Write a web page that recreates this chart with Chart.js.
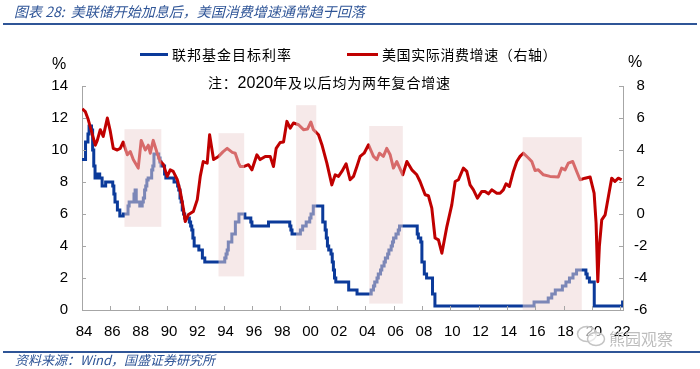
<!DOCTYPE html>
<html>
<head>
<meta charset="utf-8">
<script src="https://cdn.jsdelivr.net/npm/chart.js@4.4.0/dist/chart.umd.min.js"></script>
<style>
  body { margin: 0; background: #fff; }
  #wrap { position: relative; width: 700px; height: 369px; overflow: hidden; font-family: "Noto Sans CJK SC", sans-serif; }
  #wrap canvas { position: absolute; left: 0; top: 0; }
  .txt { position: absolute; white-space: nowrap; line-height: 20px; height: 20px; color: #000; }
  .rule { position: absolute; height: 2px; background: #2F5597; }
  .key { position: absolute; height: 3px; }
  .num { font-family: "Liberation Sans", Arial, sans-serif; }
</style>
</head>
<body>
<div id="wrap">
  <canvas id="chart" width="700" height="369"></canvas>

  <div class="txt" style="left:14px; top:1px; font-size:14px; font-style:italic; color:#2F5597;">图表 28:&nbsp; 美联储开始加息后，美国消费增速通常趋于回落</div>
  <div class="rule" style="left:3px; top:23px; width:694px;"></div>

  <div class="key" style="left:140px; top:53px; width:28px; background:#0B3A9A;"></div>
  <div class="txt" style="left:172px; top:44px; font-size:14px; letter-spacing:1px;">联邦基金目标利率</div>
  <div class="key" style="left:347px; top:53px; width:31px; background:#C00000;"></div>
  <div class="txt" style="left:382px; top:44px; font-size:14px; letter-spacing:0.6px;">美国实际消费增速（右轴）</div>

  <div class="txt" style="left:208px; top:72px; font-size:14px; letter-spacing:0.8px;">注：<span class="num" style="font-size:16px; letter-spacing:0;">2020</span>年及以后均为两年复合增速</div>

  <div class="txt num" style="left:52px; top:54px; font-size:16px;">%</div>
  <div class="txt num" style="left:628px; top:52px; font-size:16px;">%</div>

  <div class="rule" style="left:3px; top:351px; width:697px;"></div>
  <div class="txt" style="left:15px; top:350px; font-size:13px; font-style:italic; color:#2F5597;">资料来源：Wind，国盛证券研究所</div>

  <svg style="position:absolute; left:576px; top:325px;" width="32" height="24">
    <ellipse cx="11" cy="9" rx="9.5" ry="7.5" fill="rgba(255,255,255,0.6)" stroke="#C4C4C4" stroke-width="1.5"/>
    <ellipse cx="20" cy="14" rx="8.5" ry="6.5" fill="rgba(255,255,255,0.6)" stroke="#C4C4C4" stroke-width="1.5"/>
  </svg>
  <div class="txt" style="left:609px; top:328px; font-size:16px; color:#BDBDBD;">熊园观察</div>
</div>

<script>
// Fed funds target rate, step changes (year, %)
const fedYears = [
  1984.00, 1984.25, 1984.42, 1984.50, 1984.67, 1984.75, 1984.83, 1984.92,
  1985.08, 1985.25, 1985.42, 1985.67, 1986.17, 1986.25, 1986.33, 1986.50, 1986.67, 1986.92,
  1987.25, 1987.33, 1987.67, 1987.75, 1987.83,
  1988.08, 1988.25, 1988.33, 1988.42, 1988.50, 1988.58, 1988.67, 1988.92,
  1989.00, 1989.08, 1989.42, 1989.50, 1989.58, 1989.83, 1989.92,
  1990.50, 1990.75, 1990.83, 1990.92,
  1991.00, 1991.08, 1991.17, 1991.25, 1991.58, 1991.67, 1991.75, 1991.83, 1991.92,
  1992.25, 1992.50, 1992.67,
  1994.08, 1994.17, 1994.25, 1994.33, 1994.58, 1994.83,
  1995.08, 1995.50, 1995.92, 1996.00, 1997.17,
  1998.67, 1998.75, 1998.83, 1999.42, 1999.58, 1999.83,
  2000.08, 2000.17, 2000.33,
  2001.00, 2001.17, 2001.25, 2001.33, 2001.42, 2001.58, 2001.67, 2001.75, 2001.83, 2001.92,
  2002.83, 2003.42,
  2004.42, 2004.58, 2004.67, 2004.83, 2004.92,
  2005.08, 2005.17, 2005.33, 2005.42, 2005.58, 2005.67, 2005.83, 2005.92,
  2006.00, 2006.17, 2006.33, 2006.42,
  2007.67, 2007.75, 2007.92,
  2008.00, 2008.17, 2008.33, 2008.75, 2008.92,
  2015.92, 2016.92, 2017.17, 2017.42, 2017.92,
  2018.17, 2018.42, 2018.67, 2018.92,
  2019.58, 2019.67, 2019.83,
  2020.17, 2022.17, 2022.20
];
const fedRates = [
  9.4, 10.5, 11.0, 11.5, 11.25, 10.0, 9.0, 8.25,
  8.5, 8.25, 7.75, 8.0, 7.75, 7.25, 6.75, 6.25, 5.875, 6.0,
  6.5, 6.75, 7.25, 7.5, 6.75,
  6.5, 6.75, 7.0, 7.5, 7.75, 8.125, 8.25, 8.75,
  9.0, 9.75, 9.5, 9.25, 9.0, 8.5, 8.25,
  8.0, 7.75, 7.5, 7.0,
  6.75, 6.25, 6.0, 5.75, 5.5, 5.25, 5.0, 4.5, 4.0,
  3.75, 3.25, 3.0,
  3.25, 3.5, 3.75, 4.25, 4.75, 5.5,
  6.0, 5.75, 5.5, 5.25, 5.5,
  5.25, 5.0, 4.75, 5.0, 5.25, 5.5,
  5.75, 6.0, 6.5,
  5.5, 5.0, 4.5, 4.0, 3.75, 3.5, 3.0, 2.5, 2.0, 1.75,
  1.25, 1.0,
  1.25, 1.5, 1.75, 2.0, 2.25,
  2.5, 2.75, 3.0, 3.25, 3.5, 3.75, 4.0, 4.25,
  4.5, 4.75, 5.0, 5.25,
  4.75, 4.5, 4.25,
  3.0, 2.25, 2.0, 1.0, 0.25,
  0.5, 0.75, 1.0, 1.25, 1.5,
  1.75, 2.0, 2.25, 2.5,
  2.25, 2.0, 1.75,
  0.25, 0.5, 0.5
];

// US real consumption growth, % y/y (right axis)
const pceYears = [
  1984.02, 1984.23, 1984.44, 1984.94, 1985.08, 1985.29, 1985.50, 1985.79, 1986.00, 1986.21,
  1986.49, 1986.70, 1986.91, 1987.20, 1987.41, 1987.62, 1987.97, 1988.18, 1988.47, 1988.68,
  1988.82, 1989.03, 1989.31, 1989.52, 1989.74, 1990.02, 1990.23, 1990.44, 1990.73, 1990.94,
  1991.15, 1991.29, 1991.50, 1991.86, 1992.14, 1992.35, 1992.56, 1992.84, 1993.01, 1993.29,
  1993.64, 1993.97, 1994.25, 1994.61, 1994.82, 1995.05, 1995.17, 1995.45, 1995.76, 1996.00,
  1996.35, 1996.58, 1996.94, 1997.29, 1997.52, 1997.71, 1997.99, 1998.23, 1998.47, 1998.70,
  1998.93, 1999.29, 1999.64, 1999.92, 2000.16, 2000.34, 2000.70, 2000.94, 2001.29, 2001.64,
  2001.88, 2002.11, 2002.35, 2002.65, 2002.93, 2003.17, 2003.41, 2003.64, 2003.92, 2004.23,
  2004.58, 2004.82, 2005.00, 2005.28, 2005.52, 2005.76, 2005.99, 2006.23, 2006.65, 2006.94,
  2007.29, 2007.64, 2007.87, 2008.23, 2008.46, 2008.70, 2008.93, 2009.17, 2009.41, 2009.76,
  2010.11, 2010.35, 2010.58, 2010.93, 2011.17, 2011.40, 2011.64, 2011.92, 2012.23, 2012.46,
  2012.70, 2012.93, 2013.29, 2013.52, 2013.75, 2013.94, 2014.18, 2014.46, 2014.70, 2014.93,
  2015.16, 2015.52, 2015.76, 2015.99, 2016.22, 2016.58, 2017.05, 2017.63, 2017.87, 2018.11,
  2018.34, 2018.65, 2018.93, 2019.17, 2019.52, 2019.88, 2020.16, 2020.30, 2020.42, 2020.53,
  2020.70, 2020.94, 2021.17, 2021.40, 2021.63, 2021.87, 2022.10
];
const pceGrowth = [
  6.58, 6.4, 5.9, 4.3, 4.6, 5.27, 4.85, 6.0, 5.16, 4.1,
  4.0, 4.1, 4.5, 3.7, 3.9, 3.4, 2.87, 4.6, 4.0, 4.3,
  3.8, 4.6, 3.8, 3.3, 3.1, 2.35, 2.76, 2.66, 2.14, 1.4,
  0.37, -0.47, -0.05, 0.15, 0.9, 2.35, 3.28, 3.18, 4.95, 3.4,
  3.6, 3.9, 4.1, 3.85, 3.8, 3.2, 2.97, 2.97, 3.08, 2.76,
  3.7, 3.4, 3.6, 3.6, 2.97, 4.1, 4.47, 4.5, 5.79, 5.37,
  5.69, 5.58, 5.27, 5.31, 5.75, 5.27, 4.95, 4.33, 3.18, 1.82,
  2.45, 2.35, 2.66, 3.14, 2.14, 2.35, 2.97, 3.6, 3.8, 4.33,
  3.6, 3.4, 3.8, 3.6, 4.1, 3.7, 2.87, 3.28, 2.45, 3.28,
  2.76, 2.45, 2.03, 1.2, 1.14, 0.37, -1.5, -1.62, -2.45, -0.8,
  0.57, 2.03, 2.14, 2.87, 2.66, 1.82, 1.51, 0.99, 1.41, 1.41,
  1.26, 1.51, 1.3, 1.3, 1.51, 1.89, 1.72, 2.66, 3.28, 3.6,
  3.8, 3.5, 3.28, 2.72, 2.76, 2.45, 2.35, 2.31, 2.87, 2.76,
  3.18, 3.28, 2.66, 2.14, 2.24, 2.31, 1.3, -0.57, -4.23, -2.04,
  -0.37, -0.05, 1.09, 2.24, 2.03, 2.24, 2.14
];

// hiking periods (shaded), in years and left-axis %
const shadeFrom = [1987.0, 1993.64, 1999.12, 2004.28, 2015.12];
const shadeTo   = [1989.6, 1995.45, 2000.54, 2006.65, 2019.29];
const shadeHigh = [11.3, 11.05, 12.8, 11.5, 10.8];
const shadeLow  = [5.2, 2.1, 3.75, 0.4, 0];

const axisGrey = "#A6A6A6";
const tickFont = { family: '"Liberation Sans", Arial, sans-serif', size: 15 };

const shadePlugin = {
  id: "shade",
  afterDatasetsDraw(chart) {
    const { ctx, scales: { x, y, y1 } } = chart;
    ctx.save();
    ctx.fillStyle = "rgba(238, 212, 212, 0.5)";
    shadeFrom.forEach((from, i) => {
      const x0 = x.getPixelForValue(from);
      const x1 = x.getPixelForValue(shadeTo[i]);
      const top = y.getPixelForValue(shadeHigh[i]);
      const bottom = y.getPixelForValue(shadeLow[i]);
      ctx.fillRect(x0, top, x1 - x0, bottom - top);
    });
    // inward tick marks
    ctx.strokeStyle = axisGrey;
    ctx.lineWidth = 1;
    ctx.beginPath();
    x.ticks.forEach(t => {
      const px = Math.round(x.getPixelForValue(t.value)) + 0.5;
      ctx.moveTo(px, x.top);
      ctx.lineTo(px, x.top - 4);
    });
    y.ticks.forEach(t => {
      const py = Math.round(y.getPixelForValue(t.value)) + 0.5;
      ctx.moveTo(y.right, py);
      ctx.lineTo(y.right + 4, py);
    });
    y1.ticks.forEach(t => {
      const py = Math.round(y1.getPixelForValue(t.value)) + 0.5;
      ctx.moveTo(y1.left, py);
      ctx.lineTo(y1.left - 4, py);
    });
    ctx.stroke();
    ctx.restore();
  }
};

document.addEventListener("DOMContentLoaded", () => {
  const ctx = document.getElementById("chart").getContext("2d");

  new Chart(ctx, {
    type: "line",
    data: {
      datasets: [
        {
          label: "美国实际消费增速（右轴）",
          data: pceYears.map((yr, i) => ({ x: yr, y: pceGrowth[i] })),
          yAxisID: "y1",
          borderColor: "#C00000",
          borderWidth: 3,
          pointRadius: 0,
          tension: 0,
          borderJoinStyle: "round",
          order: 0,
        },
        {
          label: "联邦基金目标利率",
          data: fedYears.map((yr, i) => ({ x: yr, y: fedRates[i] })),
          yAxisID: "y",
          borderColor: "#0B3A9A",
          borderWidth: 3,
          pointRadius: 0,
          stepped: "before",
          order: 1,
        },
      ],
    },
    options: {
      responsive: false,
      animation: false,
      layout: { padding: { top: 86, right: 41, bottom: 0, left: 0 } },
      plugins: {
        legend: { display: false },
        tooltip: { enabled: false },
      },
      scales: {
        x: {
          type: "linear",
          min: 1984,
          max: 2022.2,
          grid: { display: false, drawTicks: false },
          border: { color: axisGrey, width: 1 },
          ticks: {
            stepSize: 2,
            includeBounds: false,
            autoSkip: false,
            maxRotation: 0,
            padding: 13,
            labelOffset: 2,
            color: "#000",
            font: tickFont,
            callback: v => String(v % 100).padStart(2, "0"),
          },
          afterFit: s => { s.height = 59; },
        },
        y: {
          position: "left",
          min: 0,
          max: 14,
          grid: { display: false, drawTicks: false },
          border: { color: axisGrey, width: 1 },
          ticks: { stepSize: 2, padding: 14, color: "#000", font: tickFont },
          afterFit: s => { s.width = 82; },
        },
        y1: {
          position: "right",
          min: -6,
          max: 8,
          grid: { display: false, drawTicks: false },
          border: { color: axisGrey, width: 1 },
          ticks: { stepSize: 2, padding: 11, crossAlign: "center", color: "#000", font: tickFont },
          afterFit: s => { s.width = 36; },
        },
      },
    },
    plugins: [shadePlugin],
  });
});
</script>
</body>
</html>
